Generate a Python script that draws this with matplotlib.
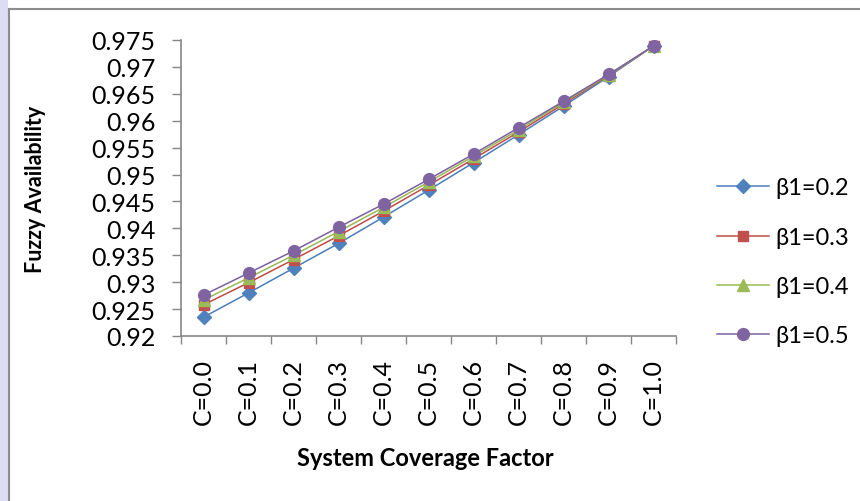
import matplotlib.pyplot as plt
from matplotlib.patches import Rectangle
from matplotlib.lines import Line2D

plt.rcParams['font.family'] = ['Lato', 'DejaVu Sans']

# data
categories = ['C=0.0', 'C=0.1', 'C=0.2', 'C=0.3', 'C=0.4', 'C=0.5',
              'C=0.6', 'C=0.7', 'C=0.8', 'C=0.9', 'C=1.0']
b02 = [0.9235, 0.9280, 0.9326, 0.9372, 0.9421, 0.9471, 0.9522, 0.9574, 0.9627, 0.9682, 0.9739]
b03 = [0.9258, 0.9299, 0.9342, 0.9386, 0.9432, 0.9480, 0.9529, 0.9579, 0.9631, 0.9684, 0.9739]
b04 = [0.9267, 0.9308, 0.9350, 0.9394, 0.9439, 0.9486, 0.9534, 0.9583, 0.9634, 0.9685, 0.9739]
b05 = [0.9276, 0.9317, 0.9358, 0.9402, 0.9445, 0.9491, 0.9538, 0.9587, 0.9636, 0.9686, 0.9739]
labels = ['β1=0.2', 'β1=0.3', 'β1=0.4', 'β1=0.5']
yticks = [0.92, 0.925, 0.93, 0.935, 0.94, 0.945, 0.95, 0.955, 0.96, 0.965, 0.97, 0.975]

fig = plt.figure(figsize=(8.6, 5.02), dpi=100)
fig.patch.set_facecolor('white')

# page background / chart frame
fig.patches.append(Rectangle((0, 0), 8 / 860, 1, transform=fig.transFigure,
                             facecolor='#dcdcf4', edgecolor='none', zorder=-2))
fig.add_artist(Line2D([8.5 / 860, 8.5 / 860], [0, 1 - 10 / 502], transform=fig.transFigure,
                      color='#8c8c8c', lw=1.5))
fig.add_artist(Line2D([8.5 / 860, 1], [1 - 10 / 502, 1 - 10 / 502], transform=fig.transFigure,
                      color='#8c8c8c', lw=1.5))

ax = fig.add_axes([181 / 860, 1 - 337 / 502, 495 / 860, 296 / 502])

x = list(range(len(categories)))
series = [(b02, '#4A7EBB', '#4F81BD', 'D', 7),
          (b03, '#BE4B48', '#C0504D', 's', 7.5),
          (b04, '#98B954', '#9BBB59', '^', 8),
          (b05, '#7D60A0', '#8064A2', 'o', 8.5)]
for (vals, lc, mc, mk, ms), lab in zip(series, labels):
    ax.plot(x, vals, color=lc, lw=1.1, marker=mk, markersize=ms,
            markerfacecolor=mc, markeredgecolor=mc, label=lab)

ax.set_xlim(-0.5, len(categories) - 0.5)
ax.set_ylim(0.92, 0.975)
ax.set_yticks(yticks)
ax.set_yticklabels([f'{v:g}' for v in yticks], fontsize=18)
ax.set_xticks(x)
ax.set_xticklabels(categories, rotation=90, fontsize=18)
ax.tick_params(axis='x', length=0, pad=16)
ax.set_xticks([i - 0.5 for i in range(len(categories) + 1)], minor=True)
ax.tick_params(axis='x', which='minor', length=6, color='#868686', width=1)
ax.tick_params(axis='y', length=6.5, color='#868686', width=1, pad=12)

for s in ['top', 'right']:
    ax.spines[s].set_visible(False)
for s in ['left', 'bottom']:
    ax.spines[s].set_color('#868686')
    ax.spines[s].set_linewidth(1.2)

ax.set_ylabel('Fuzzy Availability', fontsize=15.5, fontweight='bold')
ax.yaxis.set_label_coords(-0.272, 0.5)
ax.set_xlabel('System Coverage Factor', fontsize=17, fontweight='bold')
ax.xaxis.set_label_coords(0.493, -0.37)

ax.legend(loc='center left', bbox_to_anchor=(1.04, 0.25), frameon=False, fontsize=17,
          handlelength=2.2, labelspacing=1.2, handletextpad=0.25)

fig.savefig('out.png', dpi=100)
